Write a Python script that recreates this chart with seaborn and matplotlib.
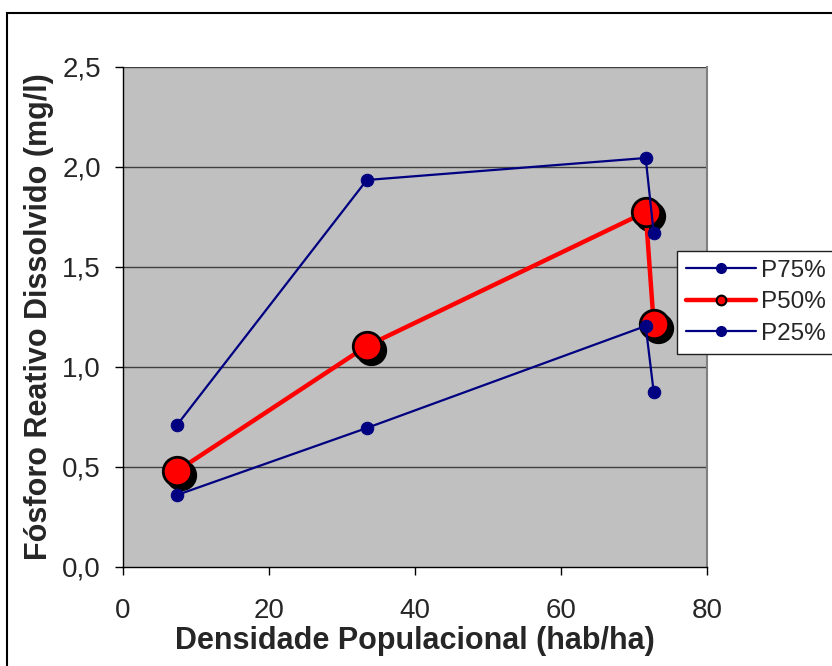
import pandas as pd
import matplotlib
matplotlib.use('Agg')
import matplotlib.pyplot as plt
import matplotlib.transforms as mtransforms
from matplotlib.patches import Rectangle
from matplotlib.lines import Line2D
import seaborn as sns

# data
densidade = [7.4, 33.4, 71.6, 72.7]
p75 = [0.71, 1.935, 2.045, 1.67]
p50 = [0.48, 1.105, 1.775, 1.215]
p25 = [0.36, 0.695, 1.205, 0.875]

navy = '#000080'

sns.set_style('white')
plt.rcParams['font.family'] = ['Liberation Sans', 'DejaVu Sans']

fig = plt.figure(figsize=(8.32, 6.66), dpi=100)
ax = fig.add_axes([123 / 832, 1 - 567 / 666, (707 - 123) / 832, (567 - 67) / 666])
ax.set_facecolor('#C0C0C0')

# P50: shadow first, then the red line
shadow = mtransforms.offset_copy(ax.transData, fig=fig, x=4, y=-4, units='dots')
ax.plot(densidade, p50, 'o', ms=21.5, color='black', transform=shadow, zorder=2)
sns.lineplot(x=densidade, y=p50, sort=False, color='red', lw=3.2, marker='o',
             markersize=20.5, markerfacecolor='red', markeredgecolor='black',
             markeredgewidth=2, ax=ax, zorder=3)

# P75 and P25 on top
sns.lineplot(x=densidade, y=p75, sort=False, color=navy, lw=1.6, marker='o',
             markersize=9, markeredgecolor=navy, ax=ax, zorder=4)
sns.lineplot(x=densidade, y=p25, sort=False, color=navy, lw=1.6, marker='o',
             markersize=9, markeredgecolor=navy, ax=ax, zorder=4)

ax.set_xlim(0, 80)
ax.set_ylim(0, 2.5)
ax.set_xticks([0, 20, 40, 60, 80])
ax.set_yticks([0, 0.5, 1.0, 1.5, 2.0, 2.5])
ax.set_yticklabels(['0,0', '0,5', '1,0', '1,5', '2,0', '2,5'])
for yv in [0.5, 1.0, 1.5, 2.0, 2.5]:
    ax.axhline(yv, color='#404040', lw=1, zorder=1)

ax.spines['right'].set_color('#808080')
ax.spines['right'].set_linewidth(1.5)
ax.spines['top'].set_visible(False)
for s in ['left', 'bottom']:
    ax.spines[s].set_color('black')
    ax.spines[s].set_linewidth(1)
ax.tick_params(axis='both', direction='out', length=6, width=1, color='black',
               labelsize=20, left=True, bottom=True)
ax.tick_params(axis='y', pad=10)
ax.tick_params(axis='x', pad=16)

ax.set_xlabel('Densidade Populacional (hab/ha)', fontsize=22, fontweight='bold', labelpad=2)
ax.set_ylabel('Fósforo Reativo Dissolvido (mg/l)', fontsize=22, fontweight='bold', labelpad=6)

handles = [
    Line2D([], [], color=navy, lw=1.6, marker='o', ms=7, markeredgecolor=navy),
    Line2D([], [], color='red', lw=3.2, marker='o', ms=7, markerfacecolor='red',
           markeredgecolor='black', markeredgewidth=1.5),
    Line2D([], [], color=navy, lw=1.6, marker='o', ms=7, markeredgecolor=navy),
]
leg = ax.legend(handles, ['P75%', 'P50%', 'P25%'], loc='upper left',
                bbox_to_anchor=(677 / 832, 1 - 251 / 666), bbox_transform=fig.transFigure,
                fontsize=17.5, frameon=True, fancybox=False, framealpha=1,
                edgecolor='#202020', handlelength=2.9, borderaxespad=0,
                labelspacing=0.4, handletextpad=0.2, borderpad=0.35)
leg.get_frame().set_linewidth(1)

fig.patches.append(Rectangle((7 / 832, -0.1), 1.2, 1 - 13 / 666 + 0.1,
                             transform=fig.transFigure, fill=False,
                             edgecolor='black', lw=1.5))

fig.savefig('out.png', dpi=100)
